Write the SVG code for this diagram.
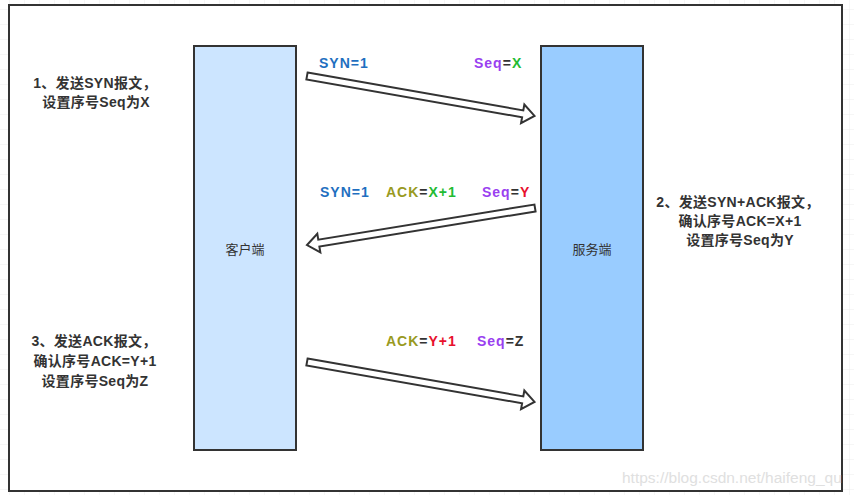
<svg xmlns="http://www.w3.org/2000/svg" width="854" height="495" viewBox="0 0 854 495">
<style>
.lbl{font-family:"Liberation Sans","Noto Sans CJK SC",sans-serif;font-size:14px;font-weight:bold;fill:#333;text-anchor:middle;letter-spacing:0.3px}
.fld{font-family:"Liberation Sans","Noto Sans CJK SC",sans-serif;font-size:14px;font-weight:bold;fill:#333;letter-spacing:1px}
.box{stroke:#333;stroke-width:2}
.name{font-family:"Noto Sans CJK SC","Liberation Sans",sans-serif;font-size:13px;fill:#333;text-anchor:middle}
.arrow{fill:#fff;stroke:#333;stroke-width:2;stroke-linejoin:miter}
.syn{fill:#1f6fc0}.seq{fill:#9a3ff0}.ack{fill:#999a1f}.grn{fill:#22bb33}.red{fill:#e8112d}
.wm{font-family:"Liberation Sans",sans-serif;font-size:15.5px;fill:#e0e0e0}
</style>
<defs>
<pattern id="grid" width="15" height="15" patternUnits="userSpaceOnUse" x="10" y="10">
<path d="M15 0V15M0 15H15" fill="none" stroke="#ececec" stroke-width="1"/>
</pattern>
<polygon id="arr" points="0,-3.5 219,-3.5 219,-9.5 231,0 219,9.5 219,3.5 0,3.5"/>
</defs>
<rect x="0" y="0" width="854" height="495" fill="#fff"/>
<rect x="0" y="0" width="854" height="495" fill="url(#grid)"/>
<rect x="9" y="5" width="833" height="486" fill="#fff" stroke="#333" stroke-width="2"/>

<g id="client">
<rect class="box" x="194" y="46" width="102" height="404" fill="#cce5ff"/>
<text class="name" x="245" y="254">客户端</text>
</g>
<g id="server">
<rect class="box" x="541" y="46" width="102" height="404" fill="#99ccff"/>
<text class="name" x="592" y="254">服务端</text>
</g>

<g id="step1">
<text class="lbl" x="95" y="88">1、发送SYN报文，</text>
<text class="lbl" x="96" y="107">设置序号Seq为X</text>
</g>
<g id="step2">
<text class="lbl" x="738" y="207">2、发送SYN+ACK报文，</text>
<text class="lbl" x="740" y="226">确认序号ACK=X+1</text>
<text class="lbl" x="740" y="245">设置序号Seq为Y</text>
</g>
<g id="step3">
<text class="lbl" x="94" y="346">3、发送ACK报文，</text>
<text class="lbl" x="95" y="366">确认序号ACK=Y+1</text>
<text class="lbl" x="95" y="386">设置序号Seq为Z</text>
</g>

<g id="connectors">
<use href="#arr" class="arrow" transform="translate(307,76) rotate(9.95)"/>
<use href="#arr" class="arrow" transform="translate(535,208) rotate(170.78)"/>
<use href="#arr" class="arrow" transform="translate(307,362) rotate(9.95)"/>
</g>

<g id="labels">
<text class="fld" x="319" y="68"><tspan class="syn">SYN=1</tspan></text>
<text class="fld" x="474" y="68"><tspan class="seq">Seq</tspan>=<tspan class="grn">X</tspan></text>
<text class="fld" x="320" y="197"><tspan class="syn">SYN=1</tspan></text>
<text class="fld" x="386" y="197"><tspan class="ack">ACK</tspan>=<tspan class="grn">X+1</tspan></text>
<text class="fld" x="482" y="197"><tspan class="seq">Seq</tspan>=<tspan class="red">Y</tspan></text>
<text class="fld" x="386" y="346"><tspan class="ack">ACK</tspan>=<tspan class="red">Y+1</tspan></text>
<text class="fld" x="477" y="346"><tspan class="seq">Seq</tspan>=Z</text>
</g>

<text class="wm" x="622" y="483">https://blog.csdn.net/haifeng_qu</text>
</svg>
